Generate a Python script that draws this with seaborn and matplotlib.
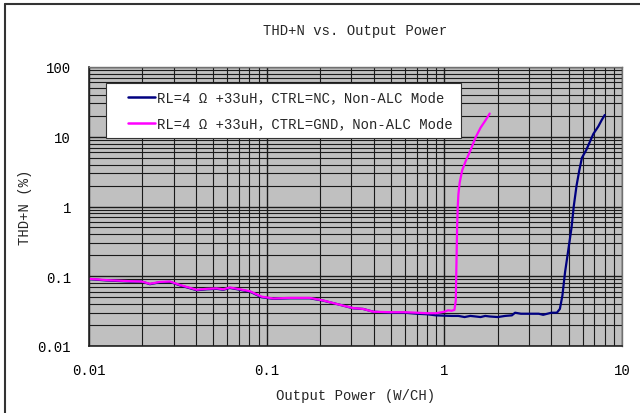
import matplotlib
matplotlib.use("Agg")
import matplotlib.pyplot as plt
from matplotlib.lines import Line2D
from matplotlib.legend_handler import HandlerLine2D
from matplotlib.ticker import FixedLocator, LogLocator, NullFormatter
import numpy as np
import pandas as pd
import seaborn as sns

# THD+N (%) versus output power (W/CH)
nc_power = [0.010, 0.0126, 0.017, 0.0198, 0.022, 0.0251, 0.0286, 0.0325, 0.0404,
            0.0459, 0.0523, 0.057, 0.062, 0.0708, 0.0805, 0.0937, 0.109, 0.135,
            0.175, 0.208, 0.258, 0.307, 0.349, 0.398, 0.50, 0.60, 0.70, 0.80,
            0.90, 1.00, 1.10, 1.20, 1.30, 1.40, 1.50, 1.60, 1.70, 1.80, 2.00,
            2.20, 2.40, 2.50, 2.70, 3.00, 3.40, 3.60, 4.00, 4.30, 4.47, 4.62,
            4.78, 5.00, 5.20, 5.35, 5.55, 5.75, 5.95, 6.30, 6.90, 7.35, 7.70, 8.00]
nc_thdn = [0.091, 0.087, 0.084, 0.084, 0.077, 0.082, 0.083, 0.074, 0.063,
           0.065, 0.066, 0.064, 0.068, 0.064, 0.060, 0.050, 0.0475, 0.0483,
           0.0483, 0.0447, 0.039, 0.0347, 0.034, 0.031, 0.030, 0.030, 0.029, 0.0285,
           0.0275, 0.0272, 0.027, 0.027, 0.026, 0.027, 0.0265, 0.026, 0.027, 0.0265, 0.026,
           0.027, 0.0275, 0.030, 0.029, 0.029, 0.029, 0.028, 0.030, 0.030, 0.034, 0.053,
           0.114, 0.25, 0.50, 1.0, 2.0, 3.3, 5.0, 6.5, 11.0, 14.0, 17.5, 20.5]

gnd_power = [0.010, 0.0126, 0.017, 0.0198, 0.022, 0.0251, 0.0286, 0.0325, 0.0404,
             0.0459, 0.0523, 0.057, 0.062, 0.0708, 0.0805, 0.0937, 0.109, 0.135,
             0.175, 0.208, 0.258, 0.307, 0.349, 0.398, 0.50, 0.60, 0.70, 0.80,
             0.90, 1.00, 1.05, 1.10, 1.14, 1.16, 1.17, 1.18, 1.19, 1.20, 1.22,
             1.26, 1.32, 1.40, 1.50, 1.60, 1.70, 1.80]
gnd_thdn = [0.092, 0.088, 0.085, 0.084, 0.078, 0.083, 0.084, 0.075, 0.064,
            0.066, 0.067, 0.065, 0.069, 0.065, 0.061, 0.051, 0.048, 0.049,
            0.049, 0.045, 0.039, 0.035, 0.034, 0.031, 0.0305, 0.0305, 0.030, 0.0295,
            0.0295, 0.031, 0.0325, 0.032, 0.033, 0.045, 0.15, 0.5, 1.0, 1.5, 2.2,
            3.3, 4.5, 6.3, 9.8, 13.5, 17.0, 21.5]

series_labels = ["RL=4 Ω +33uH，CTRL=NC，Non-ALC Mode",
                 "RL=4 Ω +33uH，CTRL=GND，Non-ALC Mode"]
series_colors = ["#000080", "#ff00ff"]

x_ticks = [0.01, 0.1, 1, 10]
x_ticklabels = ["0.01", "0.1", "1", "10"]
y_ticks = [0.01, 0.1, 1, 10, 100]
y_ticklabels = ["0.01", "0.1", "1", "10", "100"]

df = pd.concat([
    pd.DataFrame({"power": nc_power, "thdn": nc_thdn, "series": series_labels[0]}),
    pd.DataFrame({"power": gnd_power, "thdn": gnd_thdn, "series": series_labels[1]}),
], ignore_index=True)

sns.set_style("white")
plt.rcParams["font.family"] = ["Liberation Mono", "Noto Sans CJK SC", "DejaVu Sans"]
plt.rcParams["font.size"] = 10

fig = plt.figure(figsize=(6.4, 4.14), dpi=100)
fig.patch.set_facecolor("white")
ax = fig.add_axes([89 / 640, 1 - 347 / 414, (622 - 89) / 640, (347 - 68) / 414])
ax.set_facecolor("#c0c0c0")

sns.lineplot(data=df, x="power", y="thdn", hue="series",
             palette=dict(zip(series_labels, series_colors)),
             linewidth=1.6, sort=False, estimator=None, ax=ax)

ax.set_xscale("log")
ax.set_yscale("log")
ax.set_xlim(0.01, 10)
ax.set_ylim(0.01, 100)

ax.xaxis.set_major_locator(FixedLocator(x_ticks))
ax.yaxis.set_major_locator(FixedLocator(y_ticks))
ax.set_xticklabels(x_ticklabels)
ax.set_yticklabels(y_ticklabels)
ax.xaxis.set_minor_locator(LogLocator(base=10, subs=np.arange(2, 10)))
ax.yaxis.set_minor_locator(LogLocator(base=10, subs=np.arange(2, 10)))
ax.xaxis.set_minor_formatter(NullFormatter())
ax.yaxis.set_minor_formatter(NullFormatter())

ax.grid(True, which="major", color="#1a1a1a", linewidth=1.0)
ax.grid(True, which="minor", color="#1a1a1a", linewidth=0.8)
ax.set_axisbelow(True)

ax.tick_params(axis="both", which="major", direction="out", length=3,
               color="black", labelsize=10, labelcolor="black")
ax.tick_params(axis="x", which="major", pad=9)
ax.tick_params(axis="y", which="major", pad=10)
ax.tick_params(axis="both", which="minor", length=0)

for side in ["left", "bottom"]:
    ax.spines[side].set_color("#222222")
    ax.spines[side].set_linewidth(1.2)
for side in ["right", "top"]:
    ax.spines[side].set_color("#707070")
    ax.spines[side].set_linewidth(1.0)

ax.set_xlabel("Output Power (W/CH)", fontsize=10, labelpad=8)
ax.set_ylabel("THD+N (%)", fontsize=10, labelpad=4)
ax.set_title("THD+N vs. Output Power", fontsize=10, pad=24)

leg = ax.legend(loc="upper left", bbox_to_anchor=(17 / 533, 1 - 16 / 279),
                frameon=True, fancybox=False, shadow=False, framealpha=1,
                edgecolor="#333333", facecolor="white", fontsize=10,
                handlelength=3.0, handletextpad=0.15, borderpad=0.55,
                labelspacing=0.85, borderaxespad=0,
                handler_map={Line2D: HandlerLine2D(xpad=1.05)})
leg.get_frame().set_linewidth(0.8)
for line in leg.get_lines():
    line.set_linewidth(1.8)

# outer chart border (left and top edges)
fig.add_artist(Line2D([5 / 640, 5 / 640], [0, 1 - 5 / 414], transform=fig.transFigure,
                      color="#333333", linewidth=1.5))
fig.add_artist(Line2D([5 / 640, 1], [1 - 5 / 414, 1 - 5 / 414], transform=fig.transFigure,
                      color="#333333", linewidth=1.5))

fig.savefig("out.png", dpi=100)
